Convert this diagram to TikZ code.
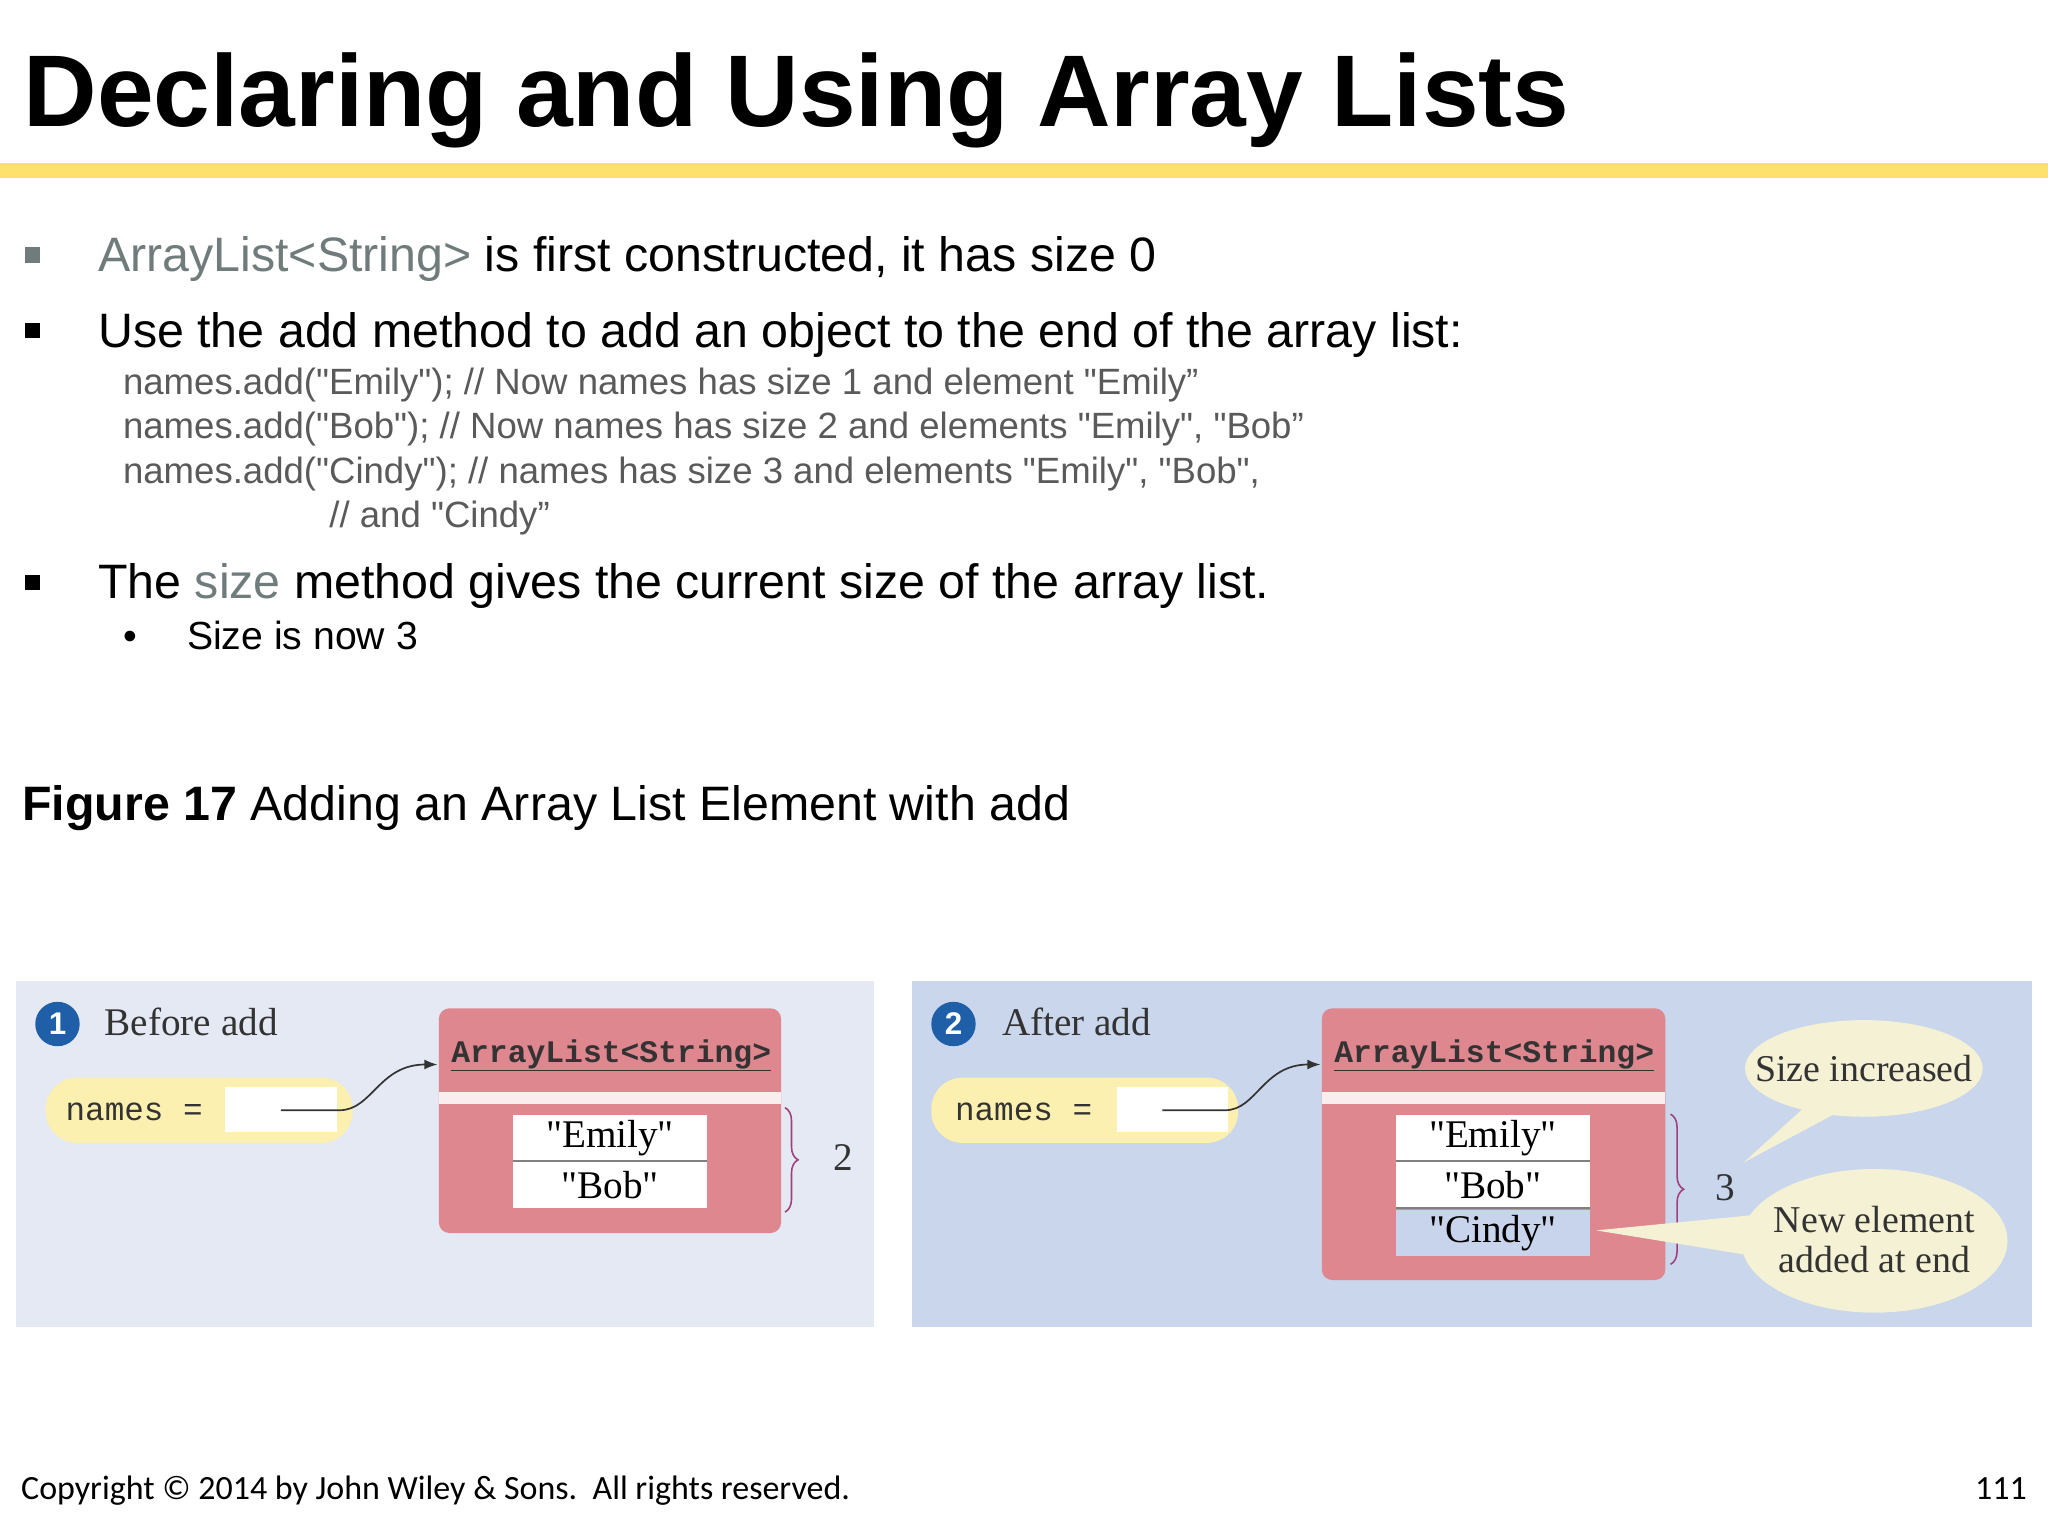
\documentclass[tikz,border=0pt]{standalone}
\usepackage{fontspec}
\setmainfont{Liberation Sans}[Ligatures=TeXOff]
\newfontfamily\serf{Liberation Serif}[Ligatures=TeXOff]
\newfontfamily\mono{Liberation Mono}
\newfontfamily\calfont{Carlito}
\usetikzlibrary{arrows.meta,decorations.pathreplacing}
\definecolor{titlebar}{HTML}{FDE06E}
\definecolor{gtxt}{HTML}{707C7C}
\definecolor{ctxt}{HTML}{5A5A5A}
\definecolor{pA}{HTML}{E4E9F4}
\definecolor{pB}{HTML}{C9D6EC}
\definecolor{pill}{HTML}{FBF0B0}
\definecolor{redbox}{HTML}{DE878E}
\definecolor{bl}{HTML}{1F5FA8}
\definecolor{brc}{HTML}{A0407A}
\definecolor{bub}{HTML}{F4F1D4}
\definecolor{cindy}{HTML}{C8D4EC}
\tikzset{
  bt/.style={anchor=base west,inner sep=0pt,font=\fontsize{37}{40}\selectfont},
  ct/.style={anchor=base west,inner sep=0pt,text=ctxt,font=\fontsize{28}{30}\selectfont},
  lab/.style={anchor=base west,inner sep=0pt,font=\serf\fontsize{30}{32}\selectfont,text=black!80},
  num/.style={circle,fill=bl,text=white,inner sep=0pt,minimum size=34pt,font=\bfseries\fontsize{24}{24}\selectfont},
  cell/.style={fill=white,minimum width=148pt,minimum height=35pt,inner sep=0pt,font=\serf\fontsize{30}{32}\selectfont},
  hdr/.style={inner sep=0pt,font=\mono\bfseries\fontsize{24}{26}\selectfont,text=black!80},
  brace/.style={draw=brc,line width=1.2pt,decorate,decoration={brace,amplitude=10pt}},
}
\begin{document}
\begin{tikzpicture}[x=1pt,y=-1pt]
\useasboundingbox (0,0) rectangle (1568,1176);
\fill[white] (0,0) rectangle (1568,1176);
\node[anchor=base west,inner sep=0pt,font=\bfseries\fontsize{78}{80}\selectfont] (title) at (18,97) {Declaring and Using Array Lists};
\fill[titlebar] (0,125) rectangle (1568,136);
% bullets
\fill[gtxt] (19,189) rectangle (31,201);
\node[bt] (b1) at (75,208) {\textcolor{gtxt}{ArrayList<String>} is first constructed, it has size 0};
\fill[black] (19,247) rectangle (31,259);
\node[bt] (b2) at (75,266) {Use the add method to add an object to the end of the array list:};
\node[ct] (c1) at (94,302) {names.add("Emily"); // Now names has size 1 and element "Emily”};
\node[ct] (c2) at (94,336) {names.add("Bob"); // Now names has size 2 and elements "Emily", "Bob”};
\node[ct] (c3) at (94,370) {names.add("Cindy"); // names has size 3 and elements "Emily", "Bob",};
\node[ct] (c4) at (252,404) {// and "Cindy”};
\fill[black] (19,440) rectangle (31,452);
\node[bt] (b3) at (75,458) {The \textcolor{gtxt}{size} method gives the current size of the array list.};
\node[anchor=base west,inner sep=0pt,font=\fontsize{30}{32}\selectfont] (sb) at (94,497) {•};
\node[anchor=base west,inner sep=0pt,font=\fontsize{30}{32}\selectfont] (s3) at (143,497) {Size is now 3};
\node[anchor=base west,inner sep=0pt,font=\fontsize{37}{40}\selectfont] (fig) at (17,628) {\textbf{Figure 17} Adding an Array List Element with add};
% panel 1
\fill[pA] (12,751) rectangle (669,1016);
\node[num] (n1) at (44,784) {1};
\node[lab] (l1) at (80,793) {Before add};
\fill[pill,rounded corners=24pt] (35,825) rectangle (270,875);
\node[anchor=base west,inner sep=0pt,font=\mono\fontsize{25}{26}\selectfont,text=black!80] (nm1) at (50,858) {names =};
\fill[white] (172,832) rectangle (258,867);
\coordinate (s1) at (215,850);
\fill[redbox,rounded corners=8pt] (336,772) rectangle (598,944);
\fill[white!85!redbox] (336,836) rectangle (598,845);
\node[hdr] (h1) at (468,808) {\underline{ArrayList<String>}};
\node[cell] (e1) at (467,871) {"Emily"};
\node[cell] (o1) at (467,907) {"Bob"};
\draw[gray,line width=1.5pt] (e1.south west) -- (e1.south east);
\coordinate (t1) at (335,815);
\draw[black!80,line width=1.3pt,-{Latex[length=10pt]}] (s1) -- (260,850) .. controls (285,850) and (290,815) .. (t1);
\draw[brace] (601,848) -- (601,928);
\node[lab] (z1) at (638,896) {2};
% panel 2
\fill[pB] (698,751) rectangle (1556,1016);
\node[num] (n2) at (730,784) {2};
\node[lab] (l2) at (767,793) {After add};
\fill[pill,rounded corners=24pt] (713,825) rectangle (948,875);
\node[anchor=base west,inner sep=0pt,font=\mono\fontsize{25}{26}\selectfont,text=black!80] (nm2) at (731,858) {names =};
\fill[white] (855,832) rectangle (940,867);
\coordinate (s2) at (890,850);
\fill[redbox,rounded corners=8pt] (1012,772) rectangle (1275,980);
\fill[white!85!redbox] (1012,836) rectangle (1275,845);
\node[hdr] (h2) at (1144,808) {\underline{ArrayList<String>}};
\node[cell] (e2) at (1143,871) {"Emily"};
\node[cell] (o2) at (1143,907) {"Bob"};
\node[cell,fill=cindy] (cy) at (1143,944) {"Cindy"};
\draw[gray,line width=1.5pt] (e2.south west) -- (e2.south east);
\draw[gray,line width=1.5pt] (o2.south west) -- (o2.south east);
\coordinate (t2) at (1011,815);
\draw[black!80,line width=1.3pt,-{Latex[length=10pt]}] (s2) -- (938,850) .. controls (962,850) and (967,815) .. (t2);
\draw[brace] (1279,853) -- (1279,968);
\node[lab] (z2) at (1313,919) {3};
% bubbles
\coordinate (tip1) at (1335,890);
\coordinate (tip2) at (1222,942);
\fill[bub] (1390,840) -- (tip1) -- (1410,850) -- cycle;
\fill[bub] (1345,930) -- (tip2) -- (1345,962) -- cycle;
\fill[bub] (1427,818) ellipse [x radius=91pt,y radius=37pt];
\fill[bub] (1435,950) ellipse [x radius=102pt,y radius=55pt];
\node[inner sep=0pt,font=\serf\fontsize{29}{31}\selectfont,text=black!80] (q1) at (1427,818) {Size increased};
\node[inner sep=0pt,align=center,font=\serf\fontsize{29}{31}\selectfont,text=black!80] (q2) at (1435,949) {New element\\added at end};
% footer
\node[anchor=base west,inner sep=0pt,font=\calfont\fontsize{26}{27}\selectfont] (cp) at (16,1148) {Copyright © 2014 by John Wiley \& Sons.\ \ All rights reserved.};
\node[anchor=base east,inner sep=0pt,font=\calfont\fontsize{26}{27}\selectfont] (pg) at (1552,1148) {111};
\end{tikzpicture}
\end{document}
